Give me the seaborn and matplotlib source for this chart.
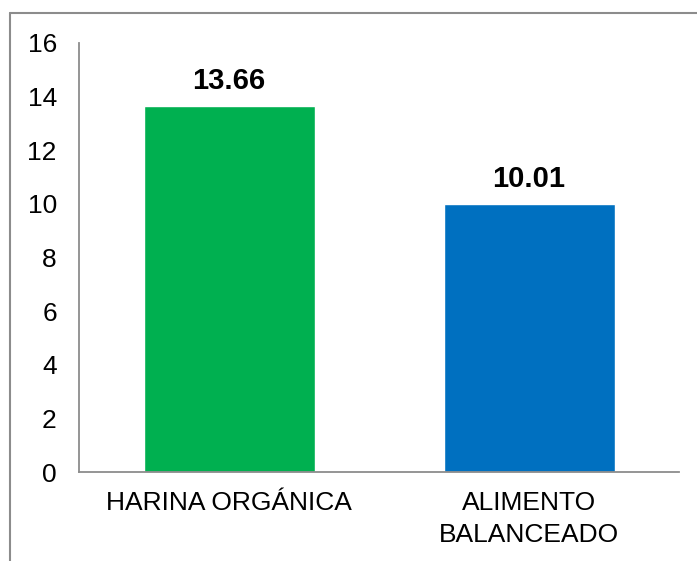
import matplotlib
matplotlib.use('Agg')
import matplotlib.pyplot as plt
import seaborn as sns
import pandas as pd
from matplotlib.lines import Line2D

categories = ['HARINA ORGÁNICA', 'ALIMENTO\nBALANCEADO']
values = [13.66, 10.01]
bar_colors = ['#00B050', '#0070C0']
yticks = [0, 2, 4, 6, 8, 10, 12, 14, 16]

sns.set_style('white')
plt.rcParams['font.family'] = ['Liberation Sans', 'DejaVu Sans']
plt.rcParams['text.color'] = 'black'

df = pd.DataFrame({'cat': categories, 'val': values})

fig = plt.figure(figsize=(6.97, 5.61), dpi=100)
ax = fig.add_axes([79 / 697, 1 - 472 / 561, 600 / 697, 429 / 561])
sns.barplot(data=df, x='cat', y='val', hue='cat', palette=bar_colors,
            width=0.57, legend=False, ax=ax, saturation=1)

ax.set_ylim(0, 16)
ax.set_xlim(-0.5, 1.5)
ax.set_yticks(yticks)
ax.set_yticklabels([str(t) for t in yticks], fontsize=19, color='black')
ax.tick_params(axis='y', length=0, pad=16)
ax.tick_params(axis='x', length=0, pad=14, labelsize=19, labelcolor='black')
for lbl in ax.get_xticklabels():
    lbl.set_linespacing(1.42)
ax.set_xlabel('')
ax.set_ylabel('')
for s in ['top', 'right']:
    ax.spines[s].set_visible(False)
for s in ['left', 'bottom']:
    ax.spines[s].set_color('#8c8c8c')
    ax.spines[s].set_linewidth(1.3)

# value labels above bars
for i, v in enumerate(values):
    ax.text(i, v + 0.4, f'{v:.2f}', ha='center', va='bottom',
            fontsize=21, fontweight='bold', color='black')

# outer chart border (cut at right and bottom)
fig.add_artist(Line2D([10 / 697, 1.0], [1 - 13 / 561, 1 - 13 / 561],
                      color='#8c8c8c', lw=1.5))
fig.add_artist(Line2D([10 / 697, 10 / 697], [1 - 13 / 561, 0.0],
                      color='#8c8c8c', lw=1.5))

fig.savefig('out.png', dpi=100)
